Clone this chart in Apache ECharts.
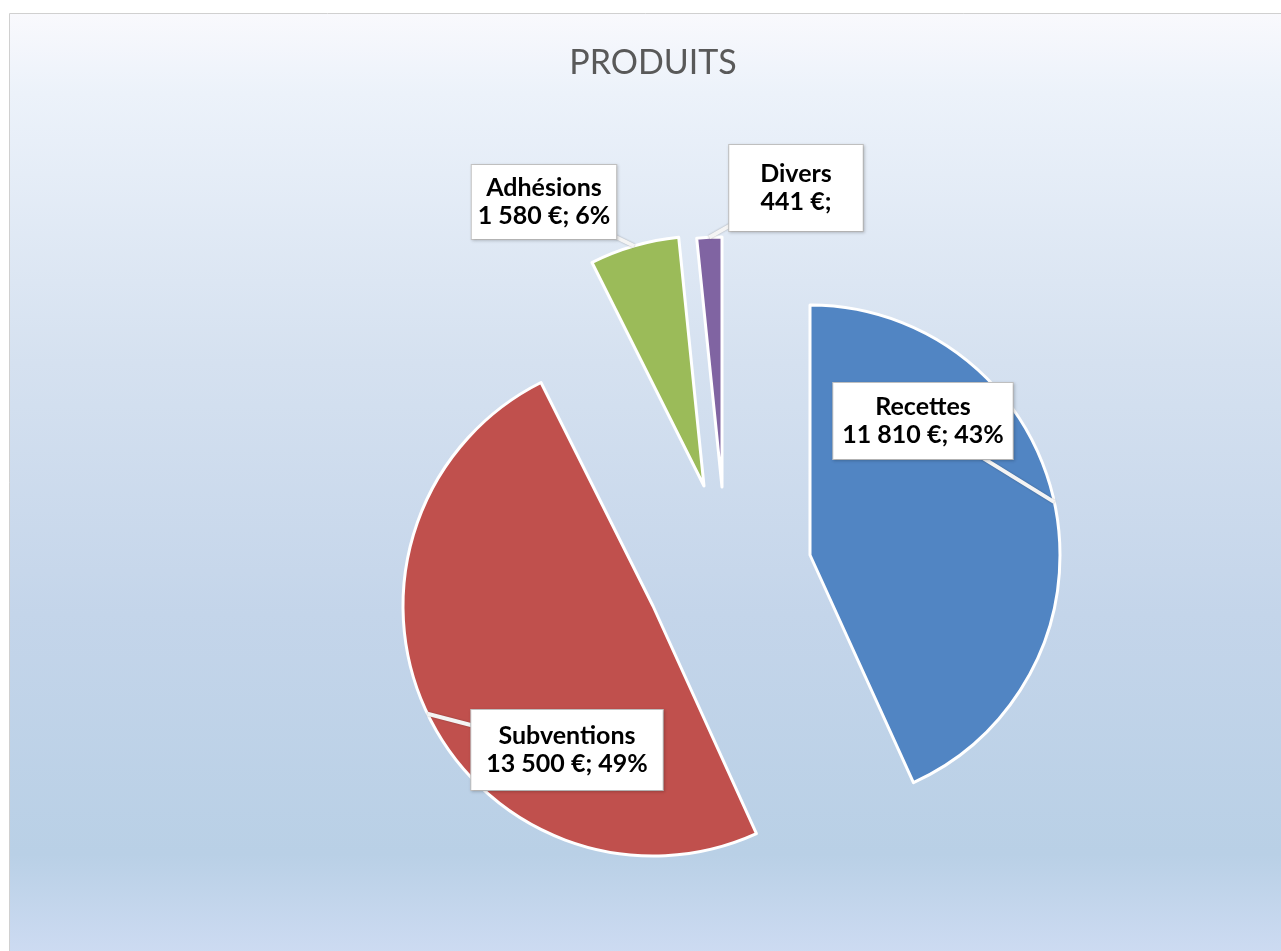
<!DOCTYPE html>
<html>
<head>
<meta charset="utf-8">
<script src="https://cdn.jsdelivr.net/npm/echarts@6/dist/echarts.min.js"></script>
<style>
html, body { margin: 0; padding: 0; background: #ffffff; }
#c { width: 1281px; height: 951px; }
</style>
</head>
<body>
<div id="c"></div>
<script>
// ---- data ----
const titleText = 'PRODUITS';
const categories = ['Recettes', 'Subventions', 'Adhésions', 'Divers'];
const values = [11810, 13500, 1580, 441];
const showPercent = [true, true, true, false];

// ---- styles / layout ----
const colors = ['#5185c3', '#c0504d', '#9bbb59', '#8064a2'];
const sliceCenters = [[810, 555], [653, 606], [704, 486], [722, 487]];
const labelCenters = [[923, 421], [567, 750], [544, 202], [796, 188]];
const labelPadding = [[10, 9], [12, 15], [9, 6], [15, 31]];
const pieRadius = 250;

function fmtNumber(v) {
  return String(v).replace(/\B(?=(\d{3})+(?!\d))/g, ' ');
}
function labelFormatter(p) {
  return p.name + '\n' + fmtNumber(p.value) + ' €;' +
    (showPercent[p.dataIndex] ? ' ' + p.percent + '%' : '');
}

const chart = echarts.init(document.getElementById('c'), null, { renderer: 'canvas' });

function basePie(i, z) {
  return {
    type: 'pie',
    name: categories[i],
    center: sliceCenters[i],
    radius: pieRadius,
    startAngle: 90,
    clockwise: true,
    percentPrecision: 0,
    avoidLabelOverlap: false,
    silent: true,
    animation: false,
    z: z,
    label: { show: false },
    labelLine: { show: false },
    emphasis: { disabled: true }
  };
}

// slice series: one visible slice each
const sliceSeries = categories.map(function (cat, i) {
  const s = basePie(i, 2 + i);
  s.data = categories.map(function (name, j) {
    return {
      name: name,
      value: values[j],
      itemStyle: j === i
        ? { color: colors[j], borderColor: '#ffffff', borderWidth: 3 }
        : { color: 'rgba(0,0,0,0)', borderWidth: 0 }
    };
  });
  return s;
});

// label series (transparent sectors on top) carrying the callouts
const labelSeries = categories.map(function (cat, i) {
  const s = basePie(i, 20 + i);
  s.data = categories.map(function (name, j) {
    const item = {
      name: name,
      value: values[j],
      itemStyle: { color: 'rgba(0,0,0,0)', borderWidth: 0 }
    };
    if (j === i) {
      item.label = {
        show: true,
        position: 'outside',
        formatter: labelFormatter,
        fontFamily: 'Lato',
        fontWeight: 'bold',
        fontSize: 25,
        lineHeight: 28,
        color: '#000000',
        align: 'center',
        backgroundColor: '#ffffff',
        borderColor: '#c4c4c4',
        borderWidth: 1,
        padding: labelPadding[j],
        shadowColor: 'rgba(0,0,0,0.15)',
        shadowBlur: 3,
        shadowOffsetX: 1,
        shadowOffsetY: 1
      };
      item.labelLine = {
        show: true,
        length: 0,
        length2: 0,
        smooth: false,
        lineStyle: { color: '#f4f4f4', width: 4, shadowColor: 'rgba(0,0,0,0.3)', shadowBlur: 2 }
      };
    } else {
      item.label = { show: false };
      item.labelLine = { show: false };
    }
    return item;
  });
  s.labelLayout = function (params) {
    if (params.dataIndex !== i) return {};
    const c = labelCenters[i];
    const res = { x: c[0], y: c[1], align: 'center', verticalAlign: 'middle' };
    const pts = params.labelLinePoints;
    if (pts && pts.length) {
      res.labelLinePoints = [pts[0], [c[0], c[1]], [c[0], c[1]]];
    }
    return res;
  };
  return s;
});

chart.setOption({
  animation: false,
  backgroundColor: '#ffffff',
  title: {
    text: titleText,
    left: 653,
    top: 46,
    padding: 0,
    textAlign: 'center',
    textStyle: { fontFamily: 'Lato', fontWeight: 'normal', fontSize: 34, color: '#595959' }
  },
  graphic: [{
    type: 'rect',
    z: -10,
    silent: true,
    shape: { x: 9.5, y: 13.5, width: 1300, height: 1000 },
    style: {
      fill: new echarts.graphic.LinearGradient(0, 0, 0, 1, [
        { offset: 0, color: '#f9f9fd' },
        { offset: 0.08, color: '#ecf2fa' },
        { offset: 0.35, color: '#d5e1f0' },
        { offset: 0.6, color: '#c4d5ea' },
        { offset: 0.84, color: '#b9d0e6' },
        { offset: 0.94, color: '#cddbf2' },
        { offset: 1, color: '#d0def4' }
      ]),
      stroke: '#d0d0d0',
      lineWidth: 1
    }
  }],
  series: sliceSeries.concat(labelSeries)
});
</script>
</body>
</html>
